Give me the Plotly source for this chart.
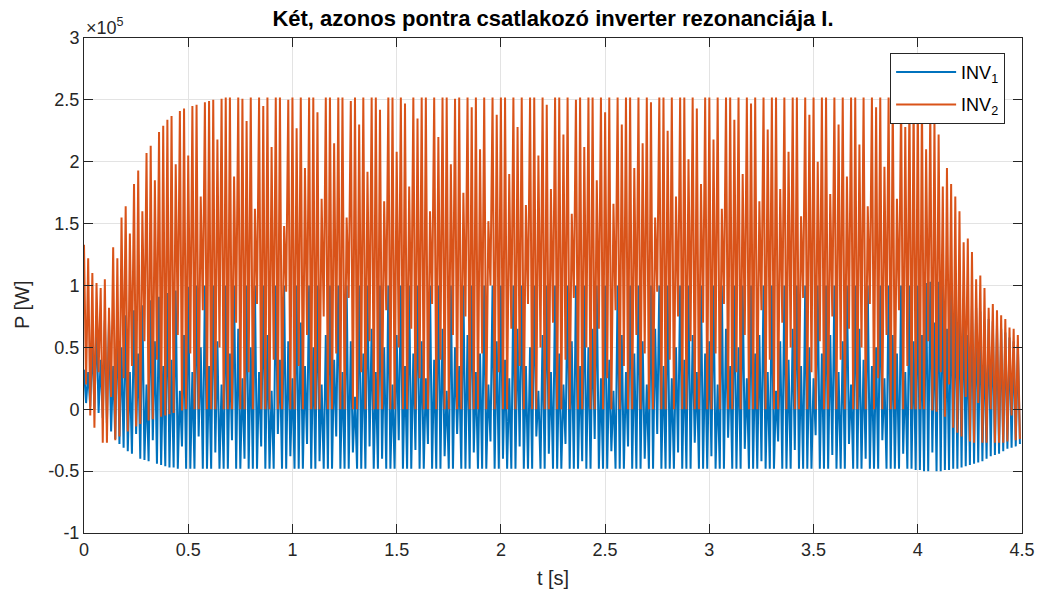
import plotly.graph_objects as go

# ---- data (values in units of 1e5 W), one max and one min per 50 Hz cycle ----
PERIOD_S = 0.02  # oscillation period (~50 Hz)

inv2_max = [
    1.33, 1.22, 1.10, 1.02, 0.98, 1.05, 0.82, 1.31, 1.22, 1.55,
    1.64, 1.42, 1.82, 1.93, 1.60, 2.07, 2.13, 1.85, 2.24, 2.29,
    2.34, 2.37, 1.98, 2.41, 2.43, 2.05, 2.45, 2.46, 1.72, 2.48,
    2.49, 2.50, 2.18, 2.51, 2.52, 2.52, 1.88, 2.52, 2.51, 2.33,
    2.52, 1.62, 2.52, 2.45, 2.52, 2.12, 2.52, 2.52, 1.48, 2.50,
    2.52, 2.27, 2.52, 1.95, 2.52, 2.52, 2.40, 1.70, 2.52, 2.52,
    2.15, 2.52, 2.52, 1.55, 2.49, 2.52, 2.30, 2.52, 1.92, 2.52,
    2.52, 2.42, 1.68, 2.52, 2.52, 2.08, 2.52, 2.47, 1.80, 2.52,
    2.35, 2.52, 2.52, 1.60, 2.52, 2.20, 2.52, 2.52, 1.98, 2.51,
    2.52, 1.75, 2.52, 2.44, 2.52, 2.10, 2.52, 1.52, 2.52, 2.38,
    2.52, 2.52, 1.90, 2.52, 2.28, 2.52, 1.65, 2.52, 2.52, 2.05,
    2.52, 2.46, 1.78, 2.52, 2.52, 2.22, 2.52, 1.58, 2.50, 2.52,
    2.12, 2.52, 2.52, 1.85, 2.52, 2.40, 2.52, 1.66, 2.52, 2.30,
    2.52, 2.52, 1.95, 2.52, 2.15, 2.52, 2.48, 1.55, 2.52, 2.52,
    2.25, 2.52, 1.72, 2.52, 2.52, 2.02, 2.52, 2.43, 1.82, 2.52,
    2.52, 2.18, 2.52, 1.62, 2.52, 2.52, 2.34, 2.52, 1.90, 2.52,
    2.47, 2.52, 1.68, 2.52, 2.26, 2.52, 2.52, 1.78, 2.52, 2.08,
    2.52, 2.52, 1.56, 2.52, 2.38, 2.52, 2.00, 2.52, 2.52, 1.74,
    2.52, 2.30, 2.52, 1.88, 2.52, 2.52, 2.14, 2.52, 1.64, 2.52,
    2.44, 2.52, 1.96, 2.52, 2.52, 1.70, 2.52, 2.28, 2.52, 2.52,
    2.52, 2.50, 2.10, 2.42, 2.34, 2.22, 1.80, 1.95, 1.82, 1.72,
    1.60, 1.35, 1.38, 1.27, 1.05, 1.08, 0.98, 0.82, 0.85, 0.80,
    0.76, 0.73, 0.66, 0.65, 0.60,
]
inv2_min = [
    0.20, -0.05, -0.15, 0.30, -0.27, -0.27, 0.10, -0.25, -0.22, 0.25,
    -0.18, 0.35, -0.14, -0.12, 0.55, -0.09, -0.08, 0.40, -0.06, -0.05,
    -0.04, -0.03, 0.60, -0.01, 0.00, 0.45, 0.00, 0.00, 0.80, 0.00,
    0.00, 0.00, 0.50, 0.00, 0.00, 0.00, 0.70, 0.00, 0.00, 0.30,
    0.00, 0.85, 0.00, 0.00, 0.00, 0.40, 0.00, 0.00, 0.95, 0.00,
    0.00, 0.35, 0.00, 0.60, 0.00, 0.00, 0.00, 0.75, 0.00, 0.00,
    0.45, 0.00, 0.00, 0.90, 0.00, 0.00, 0.30, 0.00, 0.55, 0.00,
    0.00, 0.00, 0.80, 0.00, 0.00, 0.50, 0.00, 0.00, 0.65, 0.00,
    0.25, 0.00, 0.00, 0.85, 0.00, 0.40, 0.00, 0.00, 0.60, 0.00,
    0.00, 0.75, 0.00, 0.00, 0.00, 0.45, 0.00, 1.00, 0.00, 0.30,
    0.00, 0.00, 0.65, 0.00, 0.35, 0.00, 0.85, 0.00, 0.00, 0.50,
    0.00, 0.00, 0.70, 0.00, 0.00, 0.40, 0.00, 0.90, 0.00, 0.00,
    0.50, 0.00, 0.00, 0.65, 0.00, 0.25, 0.00, 0.80, 0.00, 0.35,
    0.00, 0.00, 0.60, 0.00, 0.45, 0.00, 0.00, 0.95, 0.00, 0.00,
    0.40, 0.00, 0.75, 0.00, 0.00, 0.55, 0.00, 0.00, 0.70, 0.00,
    0.00, 0.45, 0.00, 0.85, 0.00, 0.00, 0.30, 0.00, 0.60, 0.00,
    0.00, 0.00, 0.80, 0.00, 0.40, 0.00, 0.00, 0.70, 0.00, 0.50,
    0.00, 0.00, 0.90, 0.00, 0.30, 0.00, 0.55, 0.00, 0.00, 0.75,
    0.00, 0.40, 0.00, 0.65, 0.00, 0.00, 0.50, 0.00, 0.85, 0.00,
    0.25, 0.00, 0.60, 0.00, 0.00, 0.80, 0.00, 0.35, 0.00, 0.00,
    0.00, 0.00, 0.55, -0.01, -0.02, 0.30, -0.06, 0.20, -0.15, -0.19,
    -0.22, 0.10, -0.26, -0.27, 0.05, -0.27, -0.27, 0.00, -0.27, -0.27,
    -0.27, -0.26, -0.05, -0.25, -0.24,
]
inv1_max = [
    0.32, 0.30, 0.55, 0.72, 0.40, 0.72, 0.72, 0.35, 0.74, 0.50,
    0.76, 0.30, 0.80, 0.45, 0.84, 0.20, 0.88, 0.55, 0.91, 0.35,
    0.94, 0.40, 0.96, 0.15, 0.60, 0.99, 0.30, 1.00, 0.50, 1.00,
    0.35, 1.00, 0.55, 0.20, 1.00, 0.45, 1.00, 0.65, 0.25, 1.00,
    0.50, 1.00, 0.30, 1.00, 0.60, 0.15, 1.00, 0.40, 1.00, 0.55,
    0.25, 1.00, 0.70, 0.35, 1.00, 0.50, 1.00, 0.20, 0.60, 1.00,
    0.40, 1.00, 0.30, 1.00, 0.55, 0.10, 1.00, 0.45, 1.00, 0.65,
    0.30, 1.00, 0.50, 1.00, 0.20, 0.60, 1.00, 0.35, 1.00, 0.45,
    1.00, 0.55, 0.25, 1.00, 0.40, 1.00, 0.65, 0.15, 1.00, 0.50,
    0.35, 1.00, 0.60, 1.00, 0.30, 0.45, 1.00, 0.20, 1.00, 0.55,
    1.00, 0.40, 0.25, 1.00, 0.65, 1.00, 0.35, 0.50, 1.00, 0.15,
    0.60, 1.00, 0.30, 1.00, 0.45, 0.20, 1.00, 0.55, 1.00, 0.35,
    1.00, 0.50, 0.65, 1.00, 0.25, 1.00, 0.40, 0.15, 1.00, 0.60,
    0.30, 1.00, 0.45, 1.00, 0.55, 0.20, 1.00, 0.65, 1.00, 0.35,
    1.00, 0.25, 0.50, 1.00, 0.40, 1.00, 0.60, 0.30, 1.00, 0.45,
    0.55, 1.00, 0.20, 1.00, 0.65, 0.35, 1.00, 0.50, 1.00, 0.25,
    1.00, 0.45, 0.60, 1.00, 0.30, 1.00, 0.15, 0.55, 1.00, 0.40,
    0.65, 1.00, 0.35, 1.00, 0.50, 0.25, 1.00, 0.45, 1.00, 0.60,
    1.00, 0.30, 0.55, 1.00, 0.20, 1.00, 0.65, 0.40, 1.00, 0.35,
    0.50, 1.00, 0.25, 1.00, 0.60, 0.45, 1.00, 0.30, 1.00, 0.55,
    1.00, 0.60, 1.02, 1.03, 0.70, 1.03, 1.02, 0.65, 0.98, 0.95,
    0.92, 0.90, 0.60, 0.84, 0.82, 0.79, 0.55, 0.73, 0.71, 0.68,
    0.65, 0.62, 0.58, 0.55, 0.52,
]
inv1_min = [
    0.05, 0.02, 0.00, -0.03, -0.07, -0.11, -0.18, -0.24, -0.28, -0.31,
    -0.34, -0.36, -0.20, -0.40, -0.41, -0.42, -0.25, -0.44, -0.45, -0.46,
    -0.47, -0.47, -0.48, -0.30, -0.48, -0.48, -0.48, -0.22, -0.48, -0.48,
    -0.48, -0.35, -0.48, -0.48, -0.48, -0.25, -0.48, -0.48, -0.40, -0.48,
    -0.48, -0.48, -0.30, -0.48, -0.48, -0.48, -0.20, -0.48, -0.48, -0.38,
    -0.48, -0.48, -0.48, -0.28, -0.48, -0.48, -0.42, -0.48, -0.48, -0.48,
    -0.22, -0.48, -0.48, -0.48, -0.35, -0.48, -0.48, -0.48, -0.30, -0.48,
    -0.48, -0.40, -0.48, -0.48, -0.48, -0.25, -0.48, -0.48, -0.48, -0.33,
    -0.48, -0.48, -0.28, -0.48, -0.48, -0.48, -0.38, -0.48, -0.48, -0.20,
    -0.48, -0.48, -0.48, -0.35, -0.48, -0.48, -0.48, -0.26, -0.48, -0.48,
    -0.40, -0.48, -0.48, -0.48, -0.30, -0.48, -0.48, -0.48, -0.22, -0.48,
    -0.48, -0.36, -0.48, -0.48, -0.48, -0.28, -0.48, -0.48, -0.48, -0.42,
    -0.48, -0.48, -0.24, -0.48, -0.48, -0.48, -0.34, -0.48, -0.48, -0.48,
    -0.30, -0.48, -0.48, -0.48, -0.40, -0.48, -0.48, -0.20, -0.48, -0.48,
    -0.48, -0.48, -0.35, -0.48, -0.48, -0.48, -0.27, -0.48, -0.48, -0.48,
    -0.38, -0.48, -0.48, -0.48, -0.23, -0.48, -0.48, -0.48, -0.32, -0.48,
    -0.48, -0.48, -0.42, -0.48, -0.48, -0.48, -0.26, -0.48, -0.48, -0.48,
    -0.33, -0.48, -0.48, -0.48, -0.48, -0.21, -0.48, -0.48, -0.48, -0.37,
    -0.48, -0.48, -0.48, -0.28, -0.48, -0.48, -0.48, -0.40, -0.48, -0.48,
    -0.48, -0.25, -0.48, -0.48, -0.48, -0.48, -0.36, -0.48, -0.48, -0.49,
    -0.49, -0.50, -0.50, -0.35, -0.50, -0.50, -0.49, -0.49, -0.48, -0.48,
    -0.47, -0.46, -0.45, -0.44, -0.43, -0.42, -0.40, -0.38, -0.37, -0.36,
    -0.34, -0.32, -0.31, -0.30, -0.28,
]

SCALE = 1e5
y_tick_vals = [-1, -0.5, 0, 0.5, 1, 1.5, 2, 2.5, 3]
y_tick_text = ["-1", "-0.5", "0", "0.5", "1", "1.5", "2", "2.5", "3"]
x_tick_vals = [0, 0.5, 1, 1.5, 2, 2.5, 3, 3.5, 4, 4.5]
x_tick_text = ["0", "0.5", "1", "1.5", "2", "2.5", "3", "3.5", "4", "4.5"]

title_text = "Két, azonos pontra csatlakozó inverter rezonanciája I."
x_label = "t [s]"
y_label = "P [W]"


def zigzag(maxs, mins):
    n = min(len(maxs), len(mins))
    xs, ys = [], []
    for k in range(n):
        t0 = k * PERIOD_S
        xs += [t0, t0 + PERIOD_S / 2]
        ys += [maxs[k] * SCALE, mins[k] * SCALE]
    return xs, ys


x1, y1 = zigzag(inv1_max, inv1_min)
x2, y2 = zigzag(inv2_max, inv2_min)

BLUE = "#0072BD"
ORANGE = "#D95319"
AX = "#262626"
FONT = "Liberation Sans, Arial, sans-serif"

L, R, T, B = 84, 18, 38, 63
W, H = 1040, 596
plot_h = H - T - B

fig = go.Figure()
fig.add_trace(go.Scatter(x=x1, y=y1, mode="lines", name="INV<sub>1</sub>",
                         legendgroup="a",
                         line=dict(color=BLUE, width=2)))
fig.add_trace(go.Scatter(x=x2, y=y2, mode="lines", name="INV<sub>2</sub>",
                         legendgroup="b",
                         line=dict(color=ORANGE, width=2)))

fig.update_layout(
    width=W, height=H,
    margin=dict(l=L, r=R, t=T, b=B, autoexpand=False),
    paper_bgcolor="white", plot_bgcolor="white",
    font=dict(family=FONT, color=AX, size=18),
    title=dict(text="<b>" + title_text + "</b>", x=0.5, xref="paper",
               xanchor="center", y=1 - 18 / H, yanchor="middle",
               font=dict(size=22, color="black", family=FONT)),
    showlegend=True,
    legend=dict(x=0.982, y=0.97, xanchor="right", yanchor="top",
                bgcolor="white", bordercolor=AX, borderwidth=1,
                font=dict(size=18, color="black", family=FONT),
                itemwidth=60, tracegroupgap=6),
)
fig.update_xaxes(
    range=[0, 4.5], tickvals=x_tick_vals, ticktext=x_tick_text,
    showgrid=True, gridcolor="#e3e3e3", gridwidth=1,
    showline=True, linecolor=AX, linewidth=1, mirror="ticks",
    ticks="inside", ticklen=9, tickcolor=AX, zeroline=False,
    title=dict(text=x_label, standoff=12, font=dict(size=20)),
    tickfont=dict(size=18), automargin=False,
)
fig.update_yaxes(
    range=[-1 * SCALE, 3 * SCALE], tickvals=[v * SCALE for v in y_tick_vals],
    ticktext=y_tick_text,
    showgrid=True, gridcolor="#e3e3e3", gridwidth=1,
    showline=True, linecolor=AX, linewidth=1, mirror="ticks",
    ticks="inside", ticklen=9, tickcolor=AX, zeroline=False,
    tickfont=dict(size=18), automargin=False,
)
fig.add_annotation(text=y_label, xref="paper", yref="paper",
                   x=(22 - L) / (W - L - R), y=(H - B - 305) / plot_h,
                   xanchor="center", yanchor="middle", textangle=-90,
                   showarrow=False, font=dict(size=20, color=AX, family=FONT))
fig.add_annotation(text="×10<sup>5</sup>", xref="paper", yref="paper",
                   x=0, y=1, xanchor="left", yanchor="bottom", showarrow=False,
                   font=dict(size=18, color=AX, family=FONT), yshift=-2)

fig.write_html("out.html")
